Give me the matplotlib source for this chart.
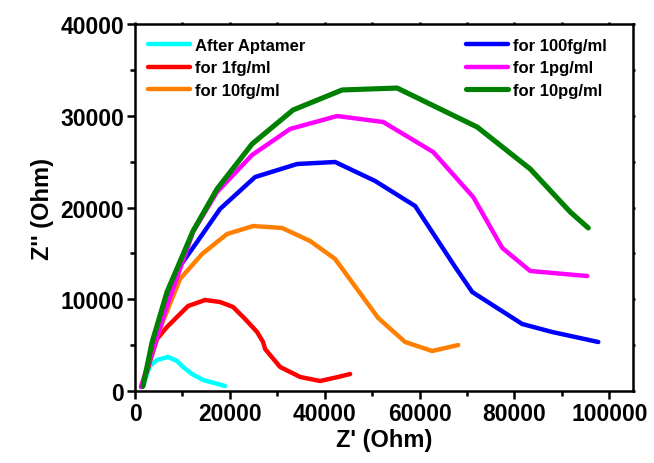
import matplotlib
matplotlib.use("Agg")
import matplotlib.pyplot as plt
from matplotlib.ticker import MultipleLocator

plt.rcParams['font.family'] = ['Liberation Sans', 'DejaVu Sans']
plt.rcParams['font.weight'] = 'bold'

labels = ["After Aptamer", "for 1fg/ml", "for 10fg/ml",
          "for 100fg/ml", "for 1pg/ml", "for 10pg/ml"]
colors = ["#00FFFF", "#FF0000", "#FF8000", "#0000FF", "#FF00FF", "#008000"]

x_apt = [1690, 3160, 4640, 6960, 8860, 10130, 12030, 14350, 18990]
y_apt = [545, 2725, 3380, 3710, 3270, 2620, 1850, 1200, 545]

x_1fg = [1480, 4640, 6750, 11180, 14770, 17930, 20680, 23210, 25740, 27000, 27430,
         30590, 34810, 39030, 42830, 45360]
y_1fg = [440, 5670, 6980, 9260, 9920, 9700, 9160, 7850, 6430, 5340, 4580,
         2620, 1530, 1090, 1530, 1850]

x_10fg = [1270, 4640, 9490, 14140, 19410, 24890, 31010, 36920, 42190, 51270, 56960,
          62660, 68140]
y_10fg = [440, 5990, 12210, 14930, 17110, 17980, 17770, 16350, 14390, 7960, 5340,
          4360, 5010]

x_100fg = [1500, 6000, 9490, 13080, 17930, 25320, 34180, 42190, 50630, 59070, 67510,
           71100, 81650, 87970, 97680]
y_100fg = [440, 9300, 13620, 16240, 19840, 23320, 24740, 24960, 22890, 20160, 13510,
           10790, 7300, 6430, 5340]

x_1pg = [1270, 6750, 12240, 17300, 24680, 32700, 42620, 52320, 62870, 71310, 77430,
         83330, 95360]
y_1pg = [440, 9260, 17330, 21690, 25720, 28560, 29970, 29320, 26050, 21140, 15590,
         13080, 12530]

x_10pg = [1690, 3600, 6750, 12240, 17300, 24680, 33330, 43670, 55270, 72150, 83330,
          91770, 95570]
y_10pg = [545, 5300, 10790, 17440, 22020, 26920, 30630, 32810, 33020, 28770, 24200,
          19510, 17770]

series = [(x_apt, y_apt), (x_1fg, y_1fg), (x_10fg, y_10fg),
          (x_100fg, y_100fg), (x_1pg, y_1pg), (x_10pg, y_10pg)]
widths = [3.2, 3.2, 3.2, 3.2, 3.2, 3.7]

fig = plt.figure(figsize=(6.54, 4.64), dpi=100)
ax = fig.add_axes([135/654, 1-392/464, (633-135)/654, (392-25)/464])

lines = []
for (xs, ys), c, lab, w in zip(series, colors, labels, widths):
    ln, = ax.plot(xs, ys, color=c, lw=w, label=lab, solid_joinstyle='round',
                  solid_capstyle='round')
    lines.append(ln)

ax.set_xlim(0, 105000)
ax.set_ylim(0, 40000)
ax.xaxis.set_major_locator(MultipleLocator(20000))
ax.xaxis.set_minor_locator(MultipleLocator(10000))
ax.yaxis.set_major_locator(MultipleLocator(10000))
ax.yaxis.set_minor_locator(MultipleLocator(5000))

for s in ax.spines.values():
    s.set_linewidth(1.8)
ax.tick_params(which='major', direction='out', length=6, width=1.8,
               labelsize=16.5, pad=2)
ax.tick_params(which='minor', direction='out', length=3.5, width=1.8)
ax.tick_params(axis='x', which='both', top=True)
ax.tick_params(axis='y', which='both', right=True)
for t in ax.yaxis.get_major_ticks() + ax.yaxis.get_minor_ticks():
    t.tick2line.set_markersize(1.5)
for t in ax.xaxis.get_major_ticks() + ax.xaxis.get_minor_ticks():
    t.tick2line.set_markersize(1.5)
for lab in ax.get_xticklabels() + ax.get_yticklabels():
    lab.set_fontweight('bold')

ax.set_xlabel("Z' (Ohm)", fontsize=17, fontweight='bold', labelpad=2)
ax.set_ylabel("Z'' (Ohm)", fontsize=17, fontweight='bold', labelpad=4)

leg_kw = dict(frameon=False, handlelength=2.5, handletextpad=0.3,
              labelspacing=0.44, borderpad=0, borderaxespad=0,
              prop={'weight': 'bold', 'size': 12})
anchor_y = (392-39)/367
leg1 = ax.legend(handles=lines[:3], loc='upper left',
                 bbox_to_anchor=((148-135)/498, anchor_y), **leg_kw)
ax.add_artist(leg1)
ax.legend(handles=lines[3:], loc='upper left',
          bbox_to_anchor=((466-135)/498, anchor_y), **leg_kw)

fig.savefig("out.png", dpi=100)
